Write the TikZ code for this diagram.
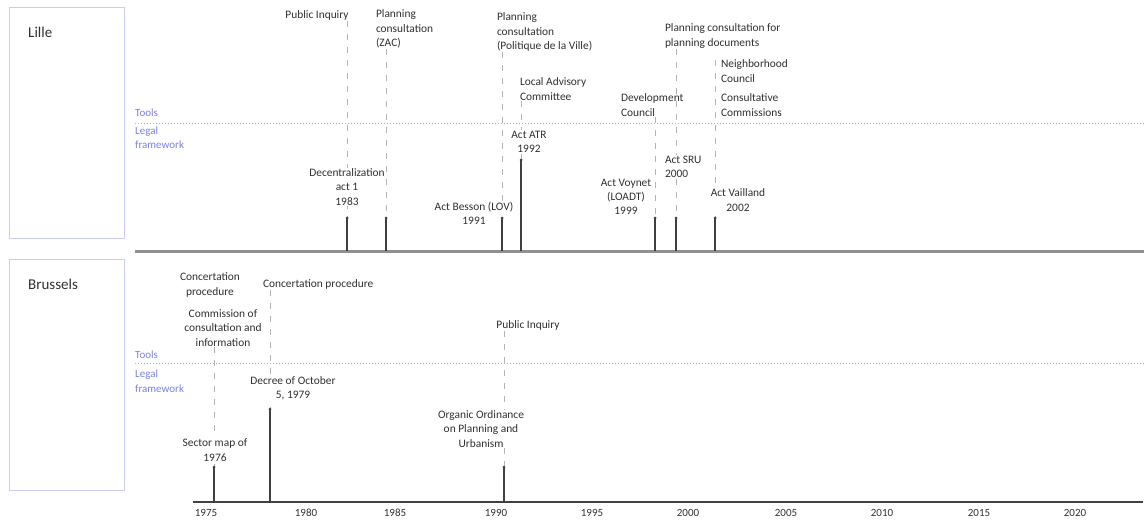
\documentclass[tikz,border=0pt]{standalone}
\usepackage{fontspec}
\setmainfont{Carlito}
\begin{document}
\definecolor{labelgrey}{HTML}{303030}
\definecolor{guidegrey}{HTML}{B4B4B4}
\definecolor{rowblue}{HTML}{7A82E0}
\definecolor{boxblue}{HTML}{C9CDF6}
\definecolor{axisgrey}{HTML}{909090}
\begin{tikzpicture}[x=1pt,y=-1pt,
  lbl/.style={font=\fontsize{11.4}{14.3}\selectfont, text=labelgrey, align=center, inner sep=0.8pt, fill=white},
  lbll/.style={lbl, align=left, anchor=west},
  rowname/.style={font=\fontsize{11}{14.5}\selectfont, text=rowblue, align=left, anchor=west, inner sep=0pt},
  city/.style={font=\fontsize{15}{18}\selectfont, text=labelgrey, anchor=west, inner sep=0pt},
  citybox/.style={draw=boxblue, line width=0.8pt},
  guide/.style={draw=guidegrey, dashed, dash pattern=on 6pt off 7pt, line width=0.7pt},
  sep/.style={draw=guidegrey, dotted, line width=1pt},
  stem/.style={draw=black!75, line width=1.2pt},
  tip/.style={circle, fill=black!75, inner sep=0pt, minimum size=3pt},
  yearlbl/.style={font=\fontsize{11}{13}\selectfont, text=labelgrey, inner sep=0pt}
]
\useasboundingbox (0,0) rectangle (1144,525);

% ---------------- Lille ----------------
\draw[citybox] (9,7) rectangle (124,238);
\node[city] (lille) at (28,32) {Lille};
\node[rowname] (ltools) at (135,113) {Tools};
\node[rowname] (llegal) at (135,137.5) {Legal\\framework};
\coordinate (lsepL) at (135,123);
\coordinate (lsepR) at (1144,123);
\draw[sep] (lsepL) -- (lsepR);
\coordinate (laxL) at (135,251);
\coordinate (laxR) at (1144,251);
\draw[draw=axisgrey, line width=3pt] (laxL) -- (laxR);

% event positions: tip of each stem and its foot on the axis
\foreach \n/\x/\t in {l83/347/218, l84/386/218, l91/502/218, l92/521/160,
                     l99/655/218, l00/676/218, l02/715/218} {
  \coordinate (\n t) at (\x,\t);
  \coordinate (\n a) at (\x,251);
}
\coordinate (l02top) at (715,60);

% tool labels, then the vertical guides beneath the legal labels
\node[lbl] (pi) at (317,15) {Public Inquiry};
\node[lbll] (zac) at (375,29) {Planning\\consultation\\(ZAC)};
\node[lbll] (pol) at (496,32) {Planning\\consultation\\(Politique de la Ville)};
\node[lbll] (lac) at (519,89) {Local Advisory\\Committee};
\node[lbll] (dev) at (620,105) {Development\\Council};
\node[lbll] (pcp) at (664,36) {Planning consultation for\\planning documents};

\draw[guide] (pi.south -| l83t) -- (l83t);
\draw[guide] (zac.south -| l84t) -- (l84t);
\draw[guide] (pol.south -| l91t) -- (l91t);
\draw[guide] (lac.south -| l92t) -- (l92t);
\draw[guide] (dev.south -| l99t) -- (l99t);
\draw[guide] (pcp.south -| l00t) -- (l00t);
\draw[guide] (l02top) -- (l02t);

\node[lbll] (nc) at (720,71) {Neighborhood\\Council};
\node[lbll] (cc) at (720,105) {Consultative\\Commissions};
\node[lbl] (dec) at (347,187) {Decentralization\\act 1\\1983};
\node[lbl] (bes) at (474,213) {Act Besson (LOV)\\1991};
\node[lbl] (atr) at (529,142) {Act ATR\\1992};
\node[lbl] (voy) at (626,197) {Act Voynet\\(LOADT)\\1999};
\node[lbll] (sru) at (664,167) {Act SRU\\2000};
\node[lbl] (vai) at (738,200) {Act Vailland\\2002};

\foreach \n in {l83,l84,l91,l92,l99,l00,l02} {
  \draw[stem] (\n a) -- (\n t);
  \node[tip] at (\n t) {};
}

% ---------------- Brussels ----------------
\draw[citybox] (9,259) rectangle (124,490);
\node[city] (brussels) at (28,284) {Brussels};
\node[rowname] (btools) at (135,355) {Tools};
\node[rowname] (blegal) at (135,381) {Legal\\framework};
\coordinate (bsepL) at (135,363);
\coordinate (bsepR) at (1144,363);
\draw[sep] (bsepL) -- (bsepR);
\coordinate (baxL) at (193,502);
\coordinate (baxR) at (1143,502);
\draw[draw=black!75, line width=1.1pt] (baxL) -- (baxR);

\foreach \n/\x/\t in {b76/214/467, b79/270/409, b90/504/467} {
  \coordinate (\n t) at (\x,\t);
  \coordinate (\n a) at (\x,502);
}

\node[lbl] (cp1) at (210,285) {Concertation\\procedure};
\node[lbl] (cci) at (223,328) {Commission of\\consultation and\\information};
\node[lbll] (cp2) at (262,284) {Concertation procedure};
\node[lbl] (pib) at (528,325) {Public Inquiry};

\draw[guide] (cci.south -| b76t) -- (b76t);
\draw[guide] (cp2.south -| b79t) -- (b79t);
\draw[guide] (pib.south -| b90t) -- (b90t);

\node[lbl] (sec) at (215,450) {Sector map of\\1976};
\node[lbl] (dcr) at (293,388) {Decree of October\\5, 1979};
\node[lbl] (org) at (481,429) {Organic Ordinance\\on Planning and\\Urbanism};

\foreach \n in {b76,b79,b90} {
  \draw[stem] (\n a) -- (\n t);
  \node[tip] at (\n t) {};
}

% year scale
\foreach \yr/\x in {1975/206, 1980/306, 1985/395, 1990/496, 1995/592,
                    2000/688, 2005/786, 2010/882, 2015/979, 2020/1075} {
  \node[yearlbl] (y\yr) at (\x,513) {\yr};
}
\end{tikzpicture}
\end{document}
